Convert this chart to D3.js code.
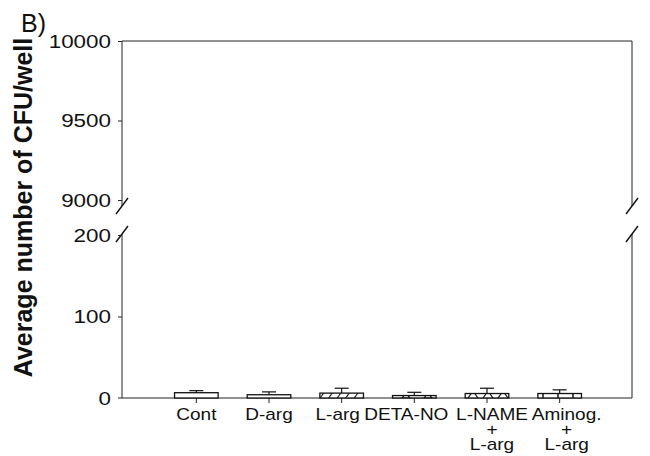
<!DOCTYPE html>
<html>
<head>
<meta charset="utf-8">
<script src="https://cdn.jsdelivr.net/npm/d3@7"></script>
<style>
  html, body { margin: 0; padding: 0; background: #fff; }
  svg { display: block; }
  text { font-family: "Liberation Sans", Arial, Helvetica, sans-serif; fill: #111; }
</style>
</head>
<body>
<svg id="chart" width="650" height="456"></svg>
<script>
// ---- data ----
const categories = ["Cont", "D-arg", "L-arg", "DETA-NO", "L-NAME\n+\nL-arg", "Aminog.\n+\nL-arg"];
const means = [6.5, 4, 6, 3, 5.5, 5.5];
const upper = [9, 7.5, 12, 7, 12, 10];
const patterns = ["none", "none", "hatch", "smalltri", "tri", "vlines"];
const topTicks = [9000, 9500, 10000];
const bottomTicks = [0, 100, 200];
const yLabel = "Average number of CFU/well";
const panelLabel = "B)";

// ---- layout ----
const svg = d3.select("#chart");
const xLeft = 122, xRight = 632;
const SX = 1.18;  // horizontal stretch for tick labels
const SXL = 1.12; // horizontal stretch for category labels
const labelNudge = [0, 0, -4, -8, 5, 7];

const x = d3.scaleBand().domain(categories).range([160, 596]).paddingInner(0.4).paddingOuter(0.2);
const yTop = d3.scaleLinear().domain([9000, 10000]).range([200, 41]);
const yBot = d3.scaleLinear().domain([0, 200]).range([398, 235]);

// ---- patterns ----
const defs = svg.append("defs");
const ph = defs.append("pattern").attr("id", "hatch").attr("patternUnits", "userSpaceOnUse")
  .attr("width", 7).attr("height", 7).attr("patternTransform", "rotate(35)");
ph.append("rect").attr("width", 7).attr("height", 7).attr("fill", "#fff");
ph.append("line").attr("x1", 0).attr("y1", 0).attr("x2", 0).attr("y2", 7).attr("stroke", "#111").attr("stroke-width", 2.2);

const pst = defs.append("pattern").attr("id", "smalltri").attr("patternUnits", "userSpaceOnUse")
  .attr("width", 22).attr("height", 8).attr("x", 4).attr("y", 398);
pst.append("rect").attr("width", 22).attr("height", 8).attr("fill", "#fff");
pst.append("path").attr("d", "M2,8 L6,3 L10,8 Z").attr("fill", "none").attr("stroke", "#111").attr("stroke-width", 1.2);

const ptr = defs.append("pattern").attr("id", "tri").attr("patternUnits", "userSpaceOnUse")
  .attr("width", 15).attr("height", 8).attr("x", 1).attr("y", 398);
ptr.append("rect").attr("width", 15).attr("height", 8).attr("fill", "#fff");
ptr.append("path").attr("d", "M2,8 L7,1 L12,8").attr("fill", "none").attr("stroke", "#111").attr("stroke-width", 1.2);

const pvl = defs.append("pattern").attr("id", "vlines").attr("patternUnits", "userSpaceOnUse")
  .attr("width", 15).attr("height", 8).attr("x", 2);
pvl.append("rect").attr("width", 15).attr("height", 8).attr("fill", "#fff");
pvl.append("line").attr("x1", 1).attr("y1", 0).attr("x2", 1).attr("y2", 8).attr("stroke", "#111").attr("stroke-width", 1.5);

// ---- frame lines ----
const stroke = "#222";
const g = svg.append("g");
g.append("line").attr("x1", xLeft).attr("x2", xRight).attr("y1", yTop(10000)).attr("y2", yTop(10000)).attr("stroke", stroke);
g.append("line").attr("x1", xRight).attr("x2", xRight).attr("y1", yTop(10000)).attr("y2", 206).attr("stroke", stroke);
g.append("line").attr("x1", xRight).attr("x2", xRight).attr("y1", 234).attr("y2", yBot(0)).attr("stroke", stroke);
g.append("line").attr("x1", xLeft - 4).attr("x2", xRight).attr("y1", yBot(0)).attr("y2", yBot(0)).attr("stroke", stroke);

// ---- axes ----
function styleYAxis(sel) {
  sel.select(".domain").remove();
  sel.selectAll(".tick line").attr("stroke", stroke);
  sel.selectAll(".tick text")
    .attr("font-size", 19)
    .attr("fill", "#111")
    .attr("transform", `scale(${SX},1)`)
    .attr("x", -11 / SX);
}
const axTop = svg.append("g").attr("transform", `translate(${xLeft},0)`)
  .call(d3.axisLeft(yTop).tickValues(topTicks).tickSize(4).tickFormat(d3.format("d")));
styleYAxis(axTop);
axTop.append("line").attr("x1", 0).attr("x2", 0).attr("y1", yTop(10000)).attr("y2", 206).attr("stroke", stroke);

const axBot = svg.append("g").attr("transform", `translate(${xLeft},0)`)
  .call(d3.axisLeft(yBot).tickValues(bottomTicks).tickSize(4).tickFormat(d3.format("d")));
styleYAxis(axBot);
axBot.selectAll(".tick").filter(d => d === 0).select("line").remove();
axBot.append("line").attr("x1", 0).attr("x2", 0).attr("y1", 234).attr("y2", yBot(0)).attr("stroke", stroke);

// break marks
[[xLeft, 206], [xLeft, 234], [xRight, 206], [xRight, 234]].forEach(([cx, cy]) => {
  g.append("line").attr("x1", cx - 6).attr("y1", cy + 8).attr("x2", cx + 6).attr("y2", cy - 8)
    .attr("stroke", "#111").attr("stroke-width", 1.4);
});

// x axis (ticks below baseline)
const axX = svg.append("g").attr("transform", `translate(0,${yBot(0)})`)
  .call(d3.axisBottom(x).tickSize(5).tickFormat(""));
axX.select(".domain").remove();
axX.selectAll(".tick line").attr("stroke", stroke);

// x labels (multi-line, each line its own text)
const xl = svg.append("g");
categories.forEach((c, k) => {
  c.split("\n").forEach((ln, i) => {
    xl.append("text")
      .attr("transform", `translate(${x(c) + x.bandwidth() / 2 + labelNudge[k]},${420 + i * 15}) scale(${SXL},1)`)
      .attr("text-anchor", "middle").attr("font-size", 17).text(ln);
  });
});

// ---- bars ----
const bars = svg.append("g");
categories.forEach((c, i) => {
  const x0 = x(c), w = x.bandwidth();
  bars.append("rect")
    .attr("x", x0).attr("width", w)
    .attr("y", yBot(means[i])).attr("height", yBot(0) - yBot(means[i]))
    .attr("fill", patterns[i] === "none" ? "#fff" : `url(#${patterns[i]})`)
    .attr("stroke", "#111").attr("stroke-width", 1.3);
  const cx = x0 + w / 2;
  bars.append("line").attr("x1", cx).attr("x2", cx).attr("y1", yBot(means[i])).attr("y2", yBot(upper[i]))
    .attr("stroke", "#111").attr("stroke-width", 1.2);
  bars.append("line").attr("x1", cx - 7).attr("x2", cx + 7).attr("y1", yBot(upper[i])).attr("y2", yBot(upper[i]))
    .attr("stroke", "#111").attr("stroke-width", 1.2);
});

// ---- labels ----
svg.append("text")
  .attr("transform", `translate(23,${(35 + 380) / 2}) rotate(-90)`)
  .attr("text-anchor", "middle").attr("dominant-baseline", "central")
  .attr("font-size", 25).attr("font-weight", "bold").text(yLabel);

svg.append("text")
  .attr("transform", `translate(21,32)`)
  .attr("font-size", 25).text(panelLabel);
</script>
</body>
</html>
